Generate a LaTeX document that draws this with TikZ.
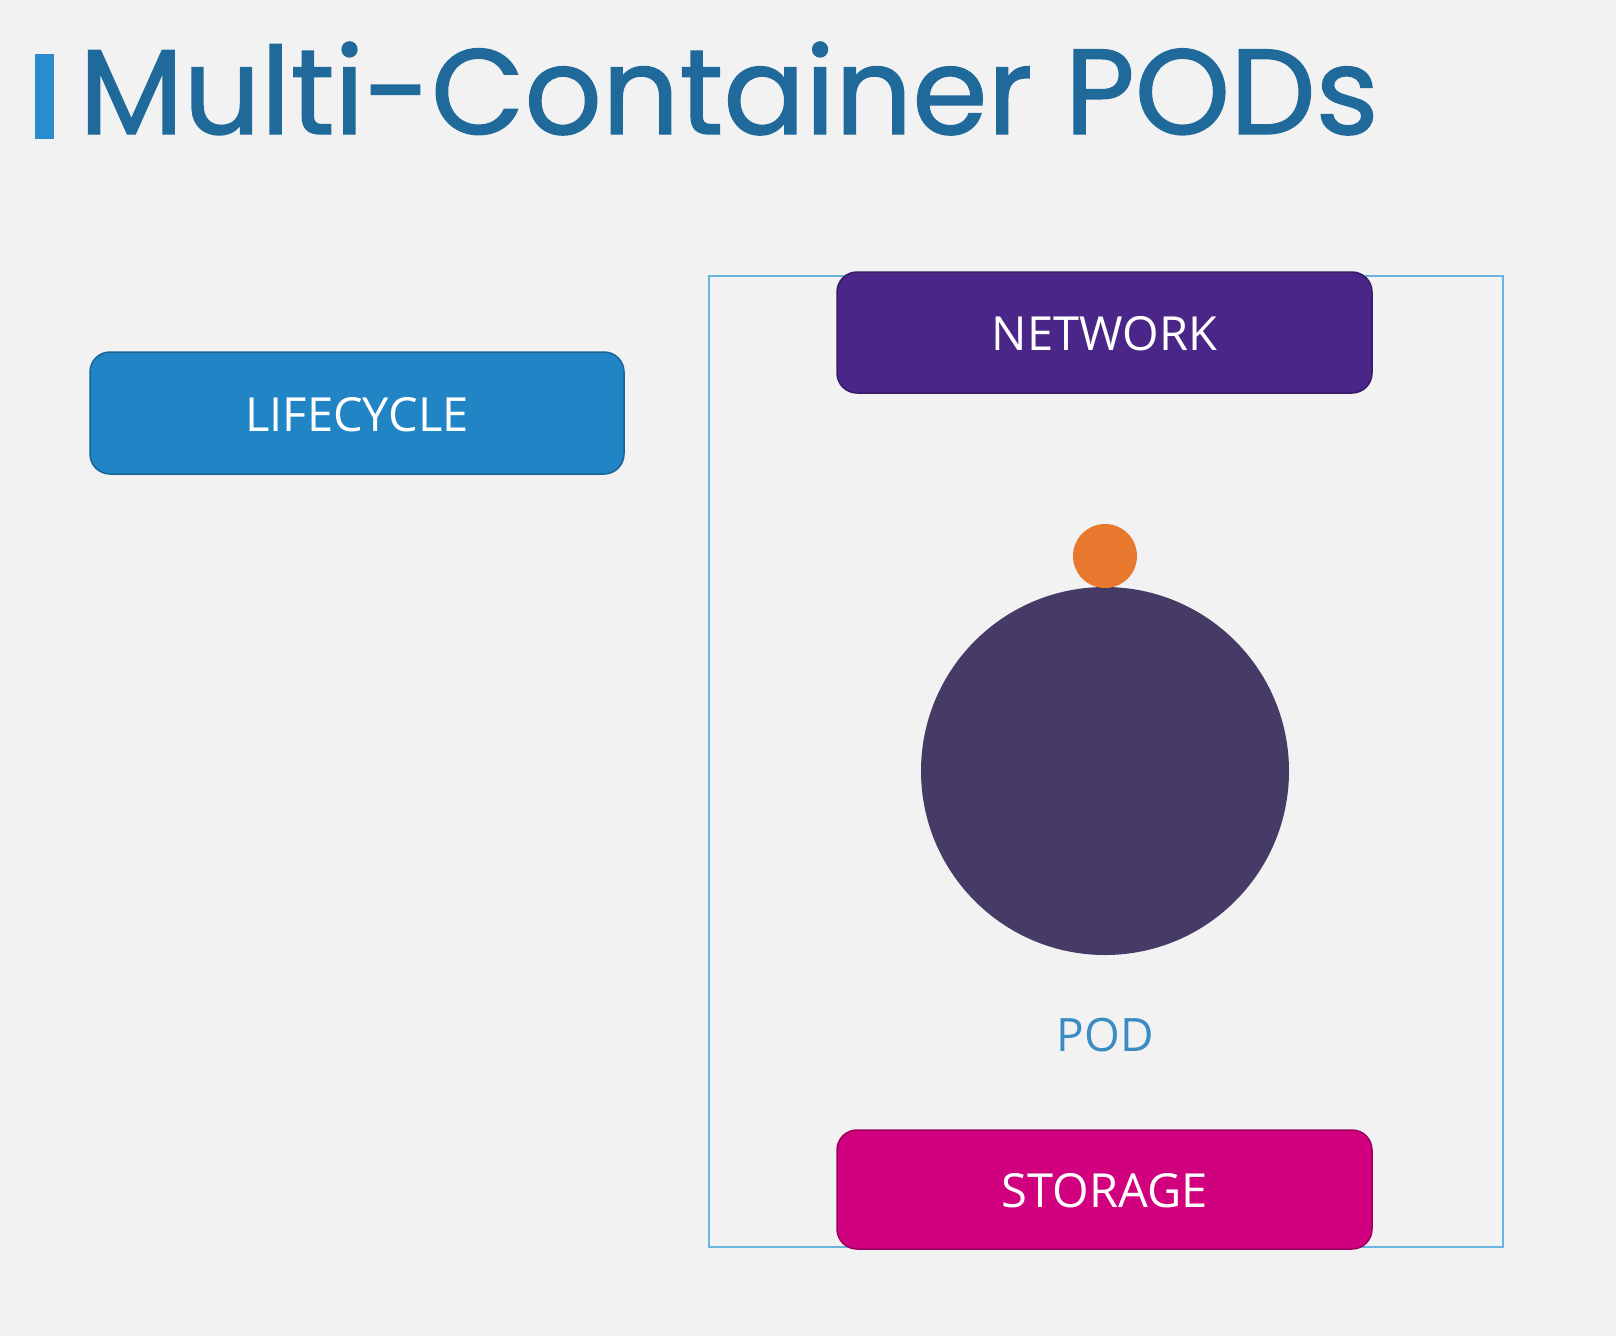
\documentclass[tikz,border=0pt]{standalone}
\usepackage{fontspec}
\setmainfont{Open Sans}
\newfontfamily\titlefont[FakeBold=1.2]{Poppins}
\definecolor{bgc}{HTML}{F2F2F2}
\definecolor{titleblue}{HTML}{1F6A9B}
\definecolor{barblue}{HTML}{2A8CCB}
\definecolor{lifeblue}{HTML}{2185C5}
\definecolor{netpurple}{HTML}{4A2689}
\definecolor{stormag}{HTML}{D0007F}
\definecolor{podorange}{HTML}{E8782D}
\definecolor{poddark}{HTML}{453B66}
\definecolor{podtext}{HTML}{3C8CC4}
\definecolor{frameblue}{HTML}{6AB4DE}
\tikzset{
  x=1pt, y=-1pt,
  pill/.style={rounded corners=20pt, draw=#1!75!black, line width=1.5pt, fill=#1},
  pilltext/.style={text=white, font=\fontsize{47}{52}\selectfont, inner sep=0pt},
}
\begin{document}
\begin{tikzpicture}
\fill[bgc] (0,0) rectangle (1616,1336);
\useasboundingbox (0,0) rectangle (1616,1336);
% title
\fill[barblue] (35,54) rectangle (54,139);
\node[anchor=base west, inner sep=0pt, text=titleblue, font=\titlefont\fontsize{121}{130}\selectfont] (title) at (79,134) {Multi-Container PODs};
% frame
\draw[frameblue, line width=1.5pt] (709,276) rectangle (1503,1247);
% boxes
\path[pill=lifeblue] (90,352) rectangle (624,474);
\node[pilltext] (life) at (357,415) {LIFECYCLE};
\path[pill=netpurple] (837,272) rectangle (1372,393);
\node[pilltext] (net) at (1104.5,334) {NETWORK};
\path[pill=stormag] (837,1130) rectangle (1372,1249);
\node[pilltext] (stor) at (1104.5,1191) {STORAGE};
% pod
\fill[poddark] (1105,771) circle[radius=184];
\node[circle, fill=podorange, minimum size=64pt, inner sep=0pt] (sidecar) at (1105,556) {};
\node[text=podtext, font=\fontsize{46}{52}\selectfont] (pod) at (1105,1035) {POD};
\end{tikzpicture}
\end{document}
